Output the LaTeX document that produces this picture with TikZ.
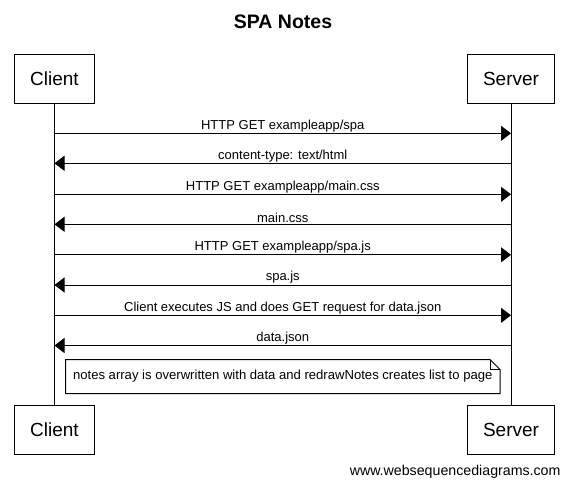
\documentclass[tikz,border=0pt]{standalone}
\usepackage{fontspec}
\setmainfont{Liberation Sans}
\usepackage{tikz}
\usetikzlibrary{shapes, arrows.meta, positioning}

\begin{document}
\begin{tikzpicture}[x=1pt, y=-1pt, line width=1pt]
\tikzstyle{actor} = [rectangle, draw=black, minimum height=49pt, inner xsep=15.5pt, font=\fontsize{19}{22}\selectfont]
\tikzstyle{msg} = [-{Triangle[length=10pt, width=15pt]}]
\tikzstyle{label} = [midway, above, inner sep=1pt, font=\fontsize{13}{15}\selectfont]
\tikzstyle{notebox} = [minimum width=433.5pt, minimum height=33pt, inner sep=0pt, font=\fontsize{13.1}{15}\selectfont]

\useasboundingbox (0,0) rectangle (570,488);

\node (title) at (283,22) {\fontsize{19.5}{22}\selectfont\bfseries SPA Notes};

\node (client) [actor] at (54.5,78.5) {Client};
\node (server) [actor] at (511,78.5) {Server};
\node (clientb) [actor] at (54.5,429.5) {Client};
\node (serverb) [actor] at (511,429.5) {Server};

\draw (client) -- (clientb);
\draw (server) -- (serverb);

\coordinate (c1) at (54.5,133.3);  \coordinate (s1) at (511,133.3);
\coordinate (c2) at (54.5,163.3);  \coordinate (s2) at (511,163.3);
\coordinate (c3) at (54.5,194.3);  \coordinate (s3) at (511,194.3);
\coordinate (c4) at (54.5,224.3);  \coordinate (s4) at (511,224.3);
\coordinate (c5) at (54.5,254.8);  \coordinate (s5) at (511,254.8);
\coordinate (c6) at (54.5,285.0);  \coordinate (s6) at (511,285.0);
\coordinate (c7) at (54.5,315.3);  \coordinate (s7) at (511,315.3);
\coordinate (c8) at (54.5,345.5);  \coordinate (s8) at (511,345.5);

\draw [msg] (c1) -- (s1) node [label] {HTTP GET exampleapp/spa};
\draw [msg] (s2) -- (c2) node [label] {content-type: text/html};
\draw [msg] (c3) -- (s3) node [label] {HTTP GET exampleapp/main.css};
\draw [msg] (s4) -- (c4) node [label] {main.css};
\draw [msg] (c5) -- (s5) node [label] {HTTP GET exampleapp/spa.js};
\draw [msg] (s6) -- (c6) node [label] {spa.js};
\draw [msg] (c7) -- (s7) node [label] {Client executes JS and does GET request for data.json};
\draw [msg] (s8) -- (c8) node [label] {data.json};

% note with folded corner
\node (note) [notebox] at (282.75,376.5) {notes array is overwritten with data and redrawNotes creates list to page};
\draw (note.south west) -- (note.north west) -- ([xshift=-10pt]note.north east)
  -- ([yshift=-10pt]note.north east) -- (note.south east) -- cycle;
\draw ([xshift=-10pt]note.north east) |- ([yshift=-10pt]note.north east);

\node (footer) [anchor=east, inner sep=0pt, font=\fontsize{14.2}{16}\selectfont] at (561,472) {www.websequencediagrams.com};

\end{tikzpicture}
\end{document}
